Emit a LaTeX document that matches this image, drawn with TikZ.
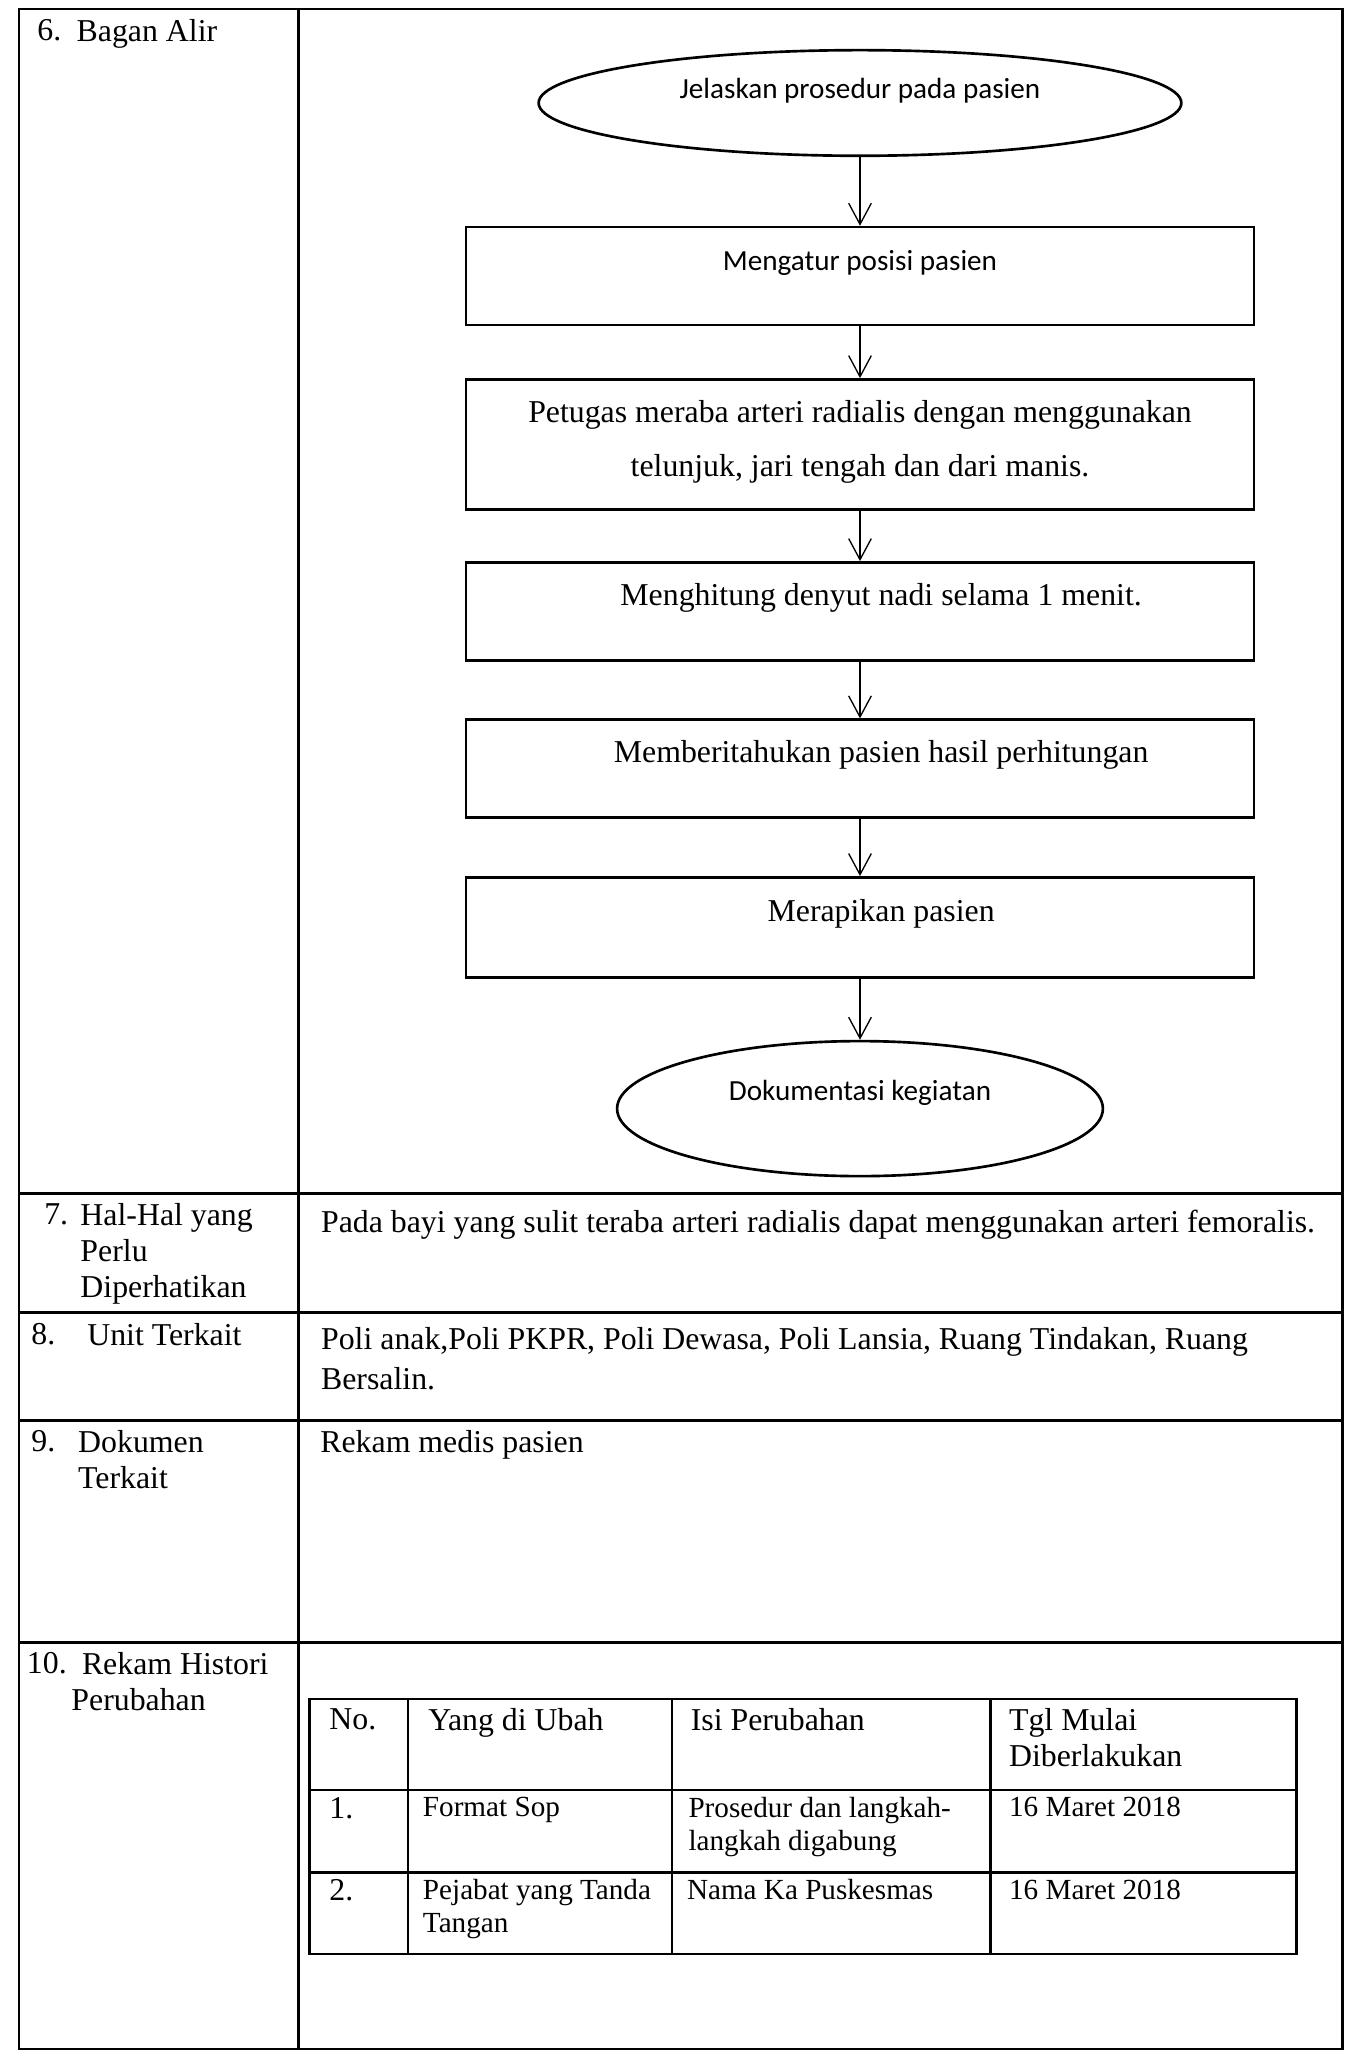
\documentclass[tikz,border=0pt]{standalone}
\usepackage{fontspec}
\setmainfont{Liberation Serif}
\newfontfamily\calibri{Carlito}
\usetikzlibrary{arrows.meta,positioning,shapes.geometric}

\begin{document}
\begin{tikzpicture}[
  x=1mm,y=1mm,
  font=\fontsize{12}{13.5}\selectfont,
  rule/.style={line width=1pt},
  oval/.style={ellipse,draw,line width=1pt,inner sep=1pt,
               font=\calibri\fontsize{11}{13}\selectfont},
  stepbox/.style={draw,line width=1pt,minimum width=104.5mm,
                  minimum height=13mm,text depth=4.5mm},
  txt/.style={anchor=north west,inner sep=0pt,align=left},
  cell/.style={txt,font=\fontsize{11}{12.4}\selectfont},
  ar/.style={-{Straight Barb[length=2.8mm,width=3mm]},line width=0.5pt}
]
\useasboundingbox (0,0) rectangle (179.0,-274.4);

\draw[rule] (2.5,-1.2) rectangle (178.0,-271.6);
\draw[rule] (39.6,-1.2) -- (39.6,-271.6);
\draw[rule] (2.5,-158.2) -- (178.0,-158.2);
\draw[rule] (2.5,-174.0) -- (178.0,-174.0);
\draw[rule] (2.5,-188.3) -- (178.0,-188.3);
\draw[rule] (2.5,-217.7) -- (178.0,-217.7);

\node[txt] (n6) at (4.9,-2.5) {6.};
\node[txt] (t6) at (10.1,-2.5) {Bagan Alir};
\node[txt] (n7) at (5.8,-159.5) {7.};
\node[txt] (t7) at (10.6,-159.5) {Hal-Hal yang\\Perlu\\Diperhatikan};
\node[txt] (n8) at (4.1,-175.3) {8.};
\node[txt] (t8) at (11.5,-175.3) {Unit Terkait};
\node[txt] (n9) at (4.1,-189.6) {9.};
\node[txt] (t9) at (10.3,-189.6) {Dokumen\\Terkait};
\node[txt] (n10) at (3.5,-219.0) {10.};
\node[txt] (t10) at (9.4,-219.0) {\hspace*{1.4mm}Rekam Histori\\Perubahan};

\node[oval,minimum width=85.2mm,minimum height=14mm,text depth=3.8mm]
  (jelas) at (114.0,-13.65) {Jelaskan prosedur pada pasien};
\node[stepbox,font=\calibri\fontsize{11}{13}\selectfont,text depth=4.1mm,
  below=9.1mm of jelas] (atur) {Mengatur posisi pasien};
\node[stepbox,minimum height=17.2mm,text depth=1.5mm,align=center,
  font=\fontsize{12}{20.4}\selectfont,below=6.85mm of atur] (raba)
  {Petugas meraba arteri radialis dengan menggunakan\\telunjuk, jari tengah dan dari manis.};
\node[stepbox,below=6.7mm of raba] (hitung)
  {\hspace*{5.6mm}Menghitung denyut nadi selama 1 menit.};
\node[stepbox,below=7.5mm of hitung] (beri)
  {\hspace*{5.6mm}Memberitahukan pasien hasil perhitungan};
\node[stepbox,minimum height=13.3mm,below=7.55mm of beri] (rapi)
  {\hspace*{5.6mm}Merapikan pasien};
\node[oval,minimum width=64.4mm,minimum height=17.9mm,text depth=4.9mm,
  below=8.05mm of rapi] (dok) {Dokumentasi kegiatan};

\draw[ar] (jelas) -- (atur);
\draw[ar] (atur) -- (raba);
\draw[ar] (raba) -- (hitung);
\draw[ar] (hitung) -- (beri);
\draw[ar] (beri) -- (rapi);
\draw[ar] (rapi) -- (dok);

\node[txt] (hal) at (42.5,-160.4)
  {Pada bayi yang sulit teraba arteri radialis dapat menggunakan arteri femoralis.};
\node[txt,font=\fontsize{12}{14.9}\selectfont] (unit) at (42.5,-175.9)
  {Poli anak,Poli PKPR, Poli Dewasa, Poli Lansia, Ruang Tindakan, Ruang\\Bersalin.};
\node[txt] (doku) at (42.4,-189.5) {Rekam medis pasien};

\draw[rule] (41.0,-225.2) rectangle (171.9,-259.0);
\draw[rule] (54.1,-225.2) -- (54.1,-259.0);
\draw[rule] (89.1,-225.2) -- (89.1,-259.0);
\draw[rule] (131.3,-225.2) -- (131.3,-259.0);
\draw[rule] (41.0,-237.3) -- (171.9,-237.3);
\draw[rule] (41.0,-248.2) -- (171.9,-248.2);

\node[txt] (hno) at (43.6,-226.4) {No.};
\node[txt] (hubah) at (56.7,-226.4) {Yang di Ubah};
\node[txt] (hisi) at (91.5,-226.4) {Isi Perubahan};
\node[txt] (htgl) at (133.7,-226.4) {Tgl Mulai\\Diberlakukan};

\node[txt] (no1) at (43.6,-238.2) {1.};
\node[cell] (ubah1) at (56.0,-238.2) {Format Sop};
\node[cell] (isi1) at (91.2,-238.2) {Prosedur dan langkah-\\langkah digabung};
\node[cell] (tgl1) at (133.7,-238.2) {16 Maret 2018};

\node[txt] (no2) at (43.6,-249.1) {2.};
\node[cell] (ubah2) at (56.0,-249.1) {Pejabat yang Tanda\\Tangan};
\node[cell] (isi2) at (91.0,-249.1) {Nama Ka Puskesmas};
\node[cell] (tgl2) at (133.7,-249.1) {16 Maret 2018};
\end{tikzpicture}
\end{document}
